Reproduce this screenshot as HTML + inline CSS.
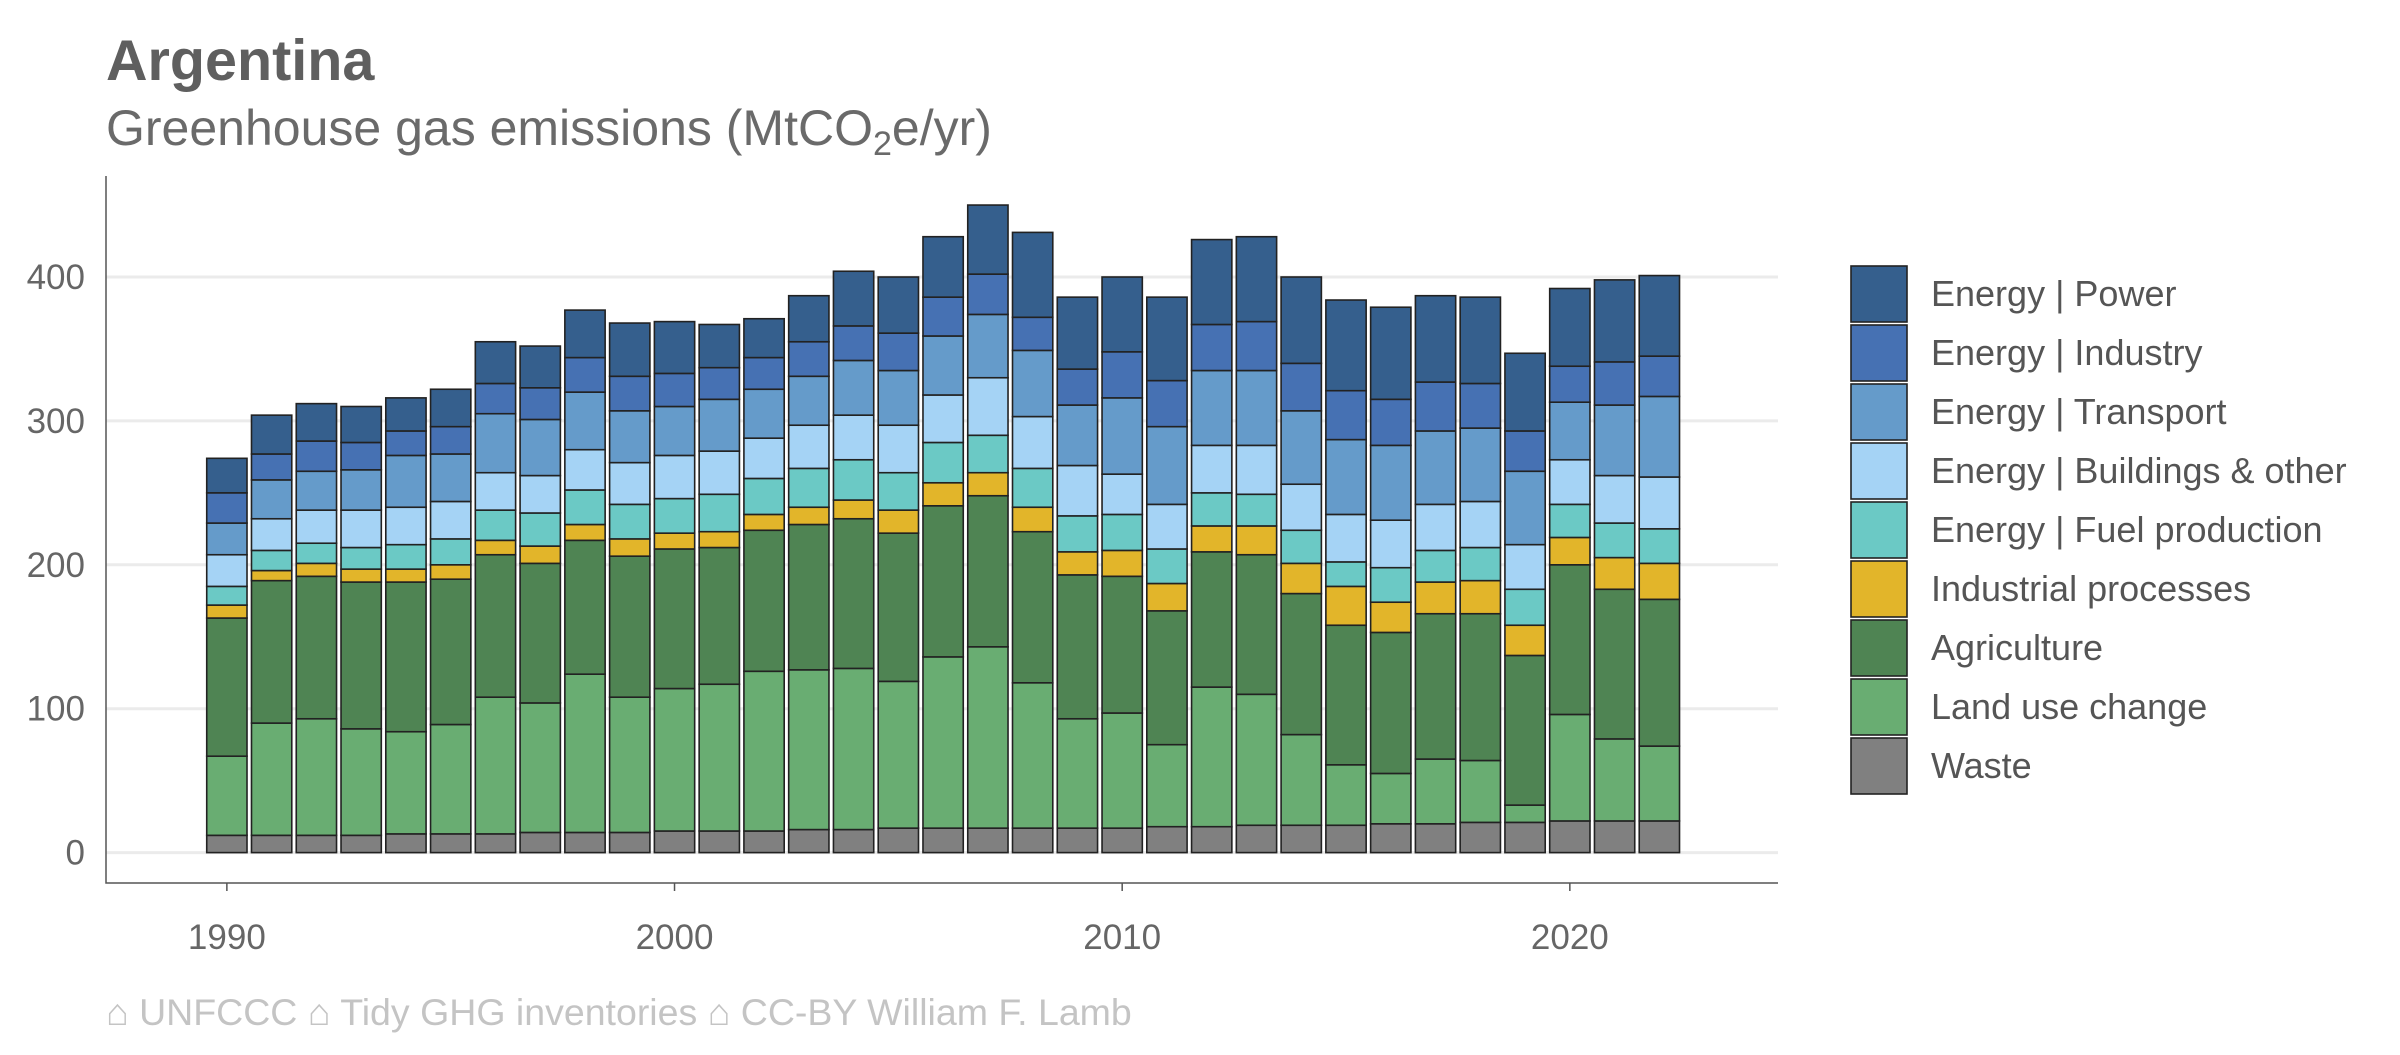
<!DOCTYPE html>
<html><head><meta charset="utf-8"><style>
body{margin:0;background:#fff;}
svg text{font-family:"Liberation Sans",Arial,sans-serif;}
</style></head><body>
<svg id="chart" width="2400" height="1050" viewBox="0 0 2400 1050" xmlns="http://www.w3.org/2000/svg">
<text x="106" y="80" font-size="57.5" font-weight="bold" fill="#5f5f5f">Argentina</text>
<text x="106" y="145" font-size="50" fill="#6a6a6a">Greenhouse gas emissions (MtCO<tspan font-size="34" dy="10">2</tspan><tspan dy="-10">e/yr)</tspan></text>
<g id="grid"></g><g id="bars"></g><g id="axes"></g><g id="legend"></g>
<text x="106" y="1025" font-size="37.5" fill="#c4c4c4">⌂ UNFCCC ⌂ Tidy GHG inventories ⌂ CC-BY William F. Lamb</text>
</svg>
<script>
const years = [1990,1991,1992,1993,1994,1995,1996,1997,1998,1999,2000,2001,2002,2003,2004,2005,2006,2007,2008,2009,2010,2011,2012,2013,2014,2015,2016,2017,2018,2019,2020,2021,2022];
const seriesNames = ["Waste","Land use change","Agriculture","Industrial processes","Energy | Fuel production","Energy | Buildings & other","Energy | Transport","Energy | Industry","Energy | Power"];
const waste = [12,12,12,12,13,13,13,14,14,14,15,15,15,16,16,17,17,17,17,17,17,18,18,19,19,19,20,20,21,21,22,22,22];
const landUse = [55,78,81,74,71,76,95,90,110,94,99,102,111,111,112,102,119,126,101,76,80,57,97,91,63,42,35,45,43,12,74,57,52];
const agriculture = [96,99,99,102,104,101,99,97,93,98,97,95,98,101,104,103,105,105,105,100,95,93,94,97,98,97,98,101,102,104,104,104,102];
const industrial = [9,7,9,9,9,10,10,12,11,12,11,11,11,12,13,16,16,16,17,16,18,19,18,20,21,27,21,22,23,21,19,22,25];
const fuelProd = [13,14,14,15,17,18,21,23,24,24,24,26,25,27,28,26,28,26,27,25,25,24,23,22,23,17,24,22,23,25,23,24,24];
const buildings = [22,22,23,26,26,26,26,26,28,29,30,30,28,30,31,33,33,40,36,35,28,31,33,34,32,33,33,32,32,31,31,33,36];
const transport = [22,27,27,28,36,33,41,39,40,36,34,36,34,34,38,38,41,44,46,42,53,54,52,52,51,52,52,51,51,51,40,49,56];
const industry = [21,18,21,19,17,19,21,22,24,24,23,22,22,24,24,26,27,28,23,25,32,32,32,34,33,34,32,34,31,28,25,30,28];
const power = [24,27,26,25,23,26,29,29,33,37,36,30,27,32,38,39,42,48,59,50,52,58,59,59,60,63,64,60,60,54,54,57,56];
const yTicks = [0,100,200,300,400];
const xTicks = [1990,2000,2010,2020];

const series = [waste,landUse,agriculture,industrial,fuelProd,buildings,transport,industry,power];
const colors = ["#808080","#69ad72","#4f8453","#e2b52a","#6bc9c5","#a5d3f5","#659bca","#4671b3","#355f8d"];
const NS="http://www.w3.org/2000/svg";
const X0=106, X1=1778, Y0=176, Y1=883;
const xMin=1987.3, xMax=2024.65, yZero=852.6, yPer=1.439;
const xs = v => X0 + (v - xMin)/(xMax - xMin)*(X1-X0);
const ys = v => yZero - v*yPer;
const bw = 0.9*(xs(1991)-xs(1990));
function mk(tag, attrs, parent){const e=document.createElementNS(NS,tag);for(const k in attrs)e.setAttribute(k,attrs[k]);parent.appendChild(e);return e;}
const grid=document.getElementById('grid'), bars=document.getElementById('bars'), axes=document.getElementById('axes'), legend=document.getElementById('legend');
yTicks.forEach(t=>{
  const l=mk('line',{x1:X0,x2:X1,y1:ys(t),y2:ys(t),stroke:'#ebebeb','stroke-width':3},grid);
  
  
  const tx=mk('text',{x:X0-21,y:ys(t)+12,'font-size':35,fill:'#666','text-anchor':'end'},axes);
  tx.textContent=t;
  
  
});
years.forEach((yr,i)=>{
  let cum=0;
  series.forEach((s,j)=>{
    const v=s[i];
    const r=mk('rect',{x:xs(yr)-bw/2,y:ys(cum+v),width:bw,height:v*yPer,fill:colors[j],stroke:'#222','stroke-width':1.6},bars);
    
    
    cum+=v;
  });
});
const ax=mk('path',{d:`M${X0} ${Y0} V${Y1} H${X1}`,fill:'none',stroke:'#555','stroke-width':1.5},axes);


xTicks.forEach(t=>{
  const tk=mk('line',{x1:xs(t),x2:xs(t),y1:Y1,y2:Y1+8,stroke:'#555','stroke-width':1.5},axes);
  
  
  const tx=mk('text',{x:xs(t),y:Y1+66,'font-size':35,fill:'#666','text-anchor':'middle'},axes);
  tx.textContent=t;
  
  
});
for(let k=0;k<9;k++){
  const j=8-k;
  const y=266+k*59;
  const r=mk('rect',{x:1851,y:y,width:56,height:56,fill:colors[j],stroke:'#222','stroke-width':1.6},legend);
  
  
  const t=mk('text',{x:1931,y:y+40,'font-size':36,fill:'#555'},legend);
  t.textContent=seriesNames[j];
  
  
}
</script>
</body></html>
